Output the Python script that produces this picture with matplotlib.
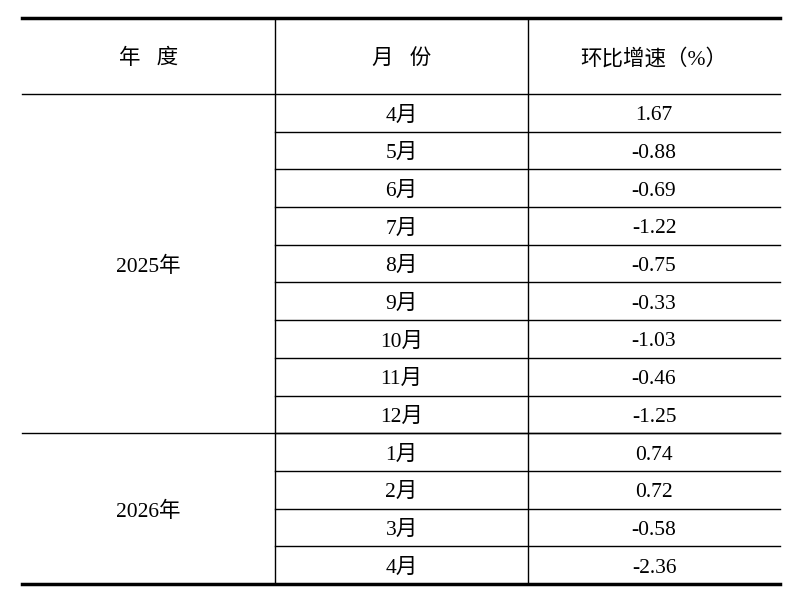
import matplotlib
matplotlib.use("Agg")
import matplotlib.pyplot as plt

headers = ["年   度", "月   份", "环比增速（%）"]
years = ["2025年", "2026年"]
year_counts = [9, 4]
months = ["4月", "5月", "6月", "7月", "8月", "9月", "10月", "11月", "12月", "1月", "2月", "3月", "4月"]
values = ["1.67", "-0.88", "-0.69", "-1.22", "-0.75", "-0.33", "-1.03", "-0.46", "-1.25",
          "0.74", "0.72", "-0.58", "-2.36"]

fam = ["Liberation Serif", "Noto Sans CJK SC", "DejaVu Sans"]
fig = plt.figure(figsize=(8.05, 6.08), dpi=100)
ax = fig.add_axes([0, 0, 1, 1])
ax.set_xlim(0, 805); ax.set_ylim(608, 0); ax.axis("off")

x0, x1, x2, x3 = 22, 275, 528, 780
ytop, yhead, ybot = 18, 94, 584
rh = (ybot - yhead) / len(months)
cx = [(x0 + x1) / 2, (x1 + x2) / 2, (x2 + x3) / 2]
dy = 3
fs = 15.5

ax.plot([x0, x3], [ytop, ytop], color="black", lw=2.5)
ax.plot([x0, x3], [ybot, ybot], color="black", lw=2.5)
ax.plot([x0, x3], [yhead, yhead], color="black", lw=1)
ax.plot([x1, x1], [ytop, ybot], color="black", lw=1)
ax.plot([x2, x2], [ytop, ybot], color="black", lw=1)

for h, x in zip(headers, cx):
    ax.text(x, (ytop + yhead) / 2 + dy, h, ha="center", va="center", fontsize=fs, family=fam)

start = 0
for yr, n in zip(years, year_counts):
    ya = yhead + start * rh
    yb = yhead + (start + n) * rh
    ax.text(cx[0], (ya + yb) / 2 + dy, yr, ha="center", va="center", fontsize=fs, family=fam)
    if start + n < len(months):
        ax.plot([x0, x3], [yb, yb], color="black", lw=1)
    start += n

for i, (m, v) in enumerate(zip(months, values)):
    yc = yhead + (i + 0.5) * rh + dy
    ax.text(cx[1], yc, m, ha="center", va="center", fontsize=fs, family=fam)
    ax.text(cx[2], yc, v, ha="center", va="center", fontsize=fs, family=fam)
    if 0 < i:
        y = yhead + i * rh
        ax.plot([x1, x3], [y, y], color="black", lw=1)

fig.savefig("out.png", dpi=100, facecolor="white")
